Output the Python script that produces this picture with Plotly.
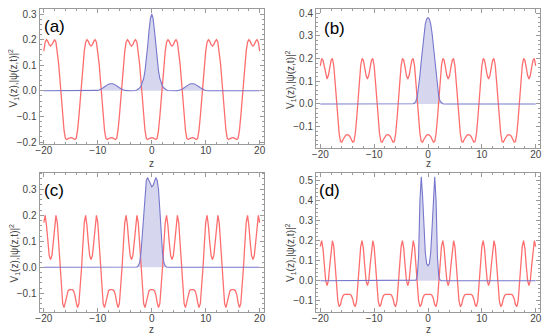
import numpy as np
import plotly.graph_objects as go
from plotly.subplots import make_subplots

# ---------------- data ----------------
z = np.linspace(-20, 20, 161)  # sample positions, step 0.25

V_a = [0.155, 0.190, 0.200, 0.193, 0.180, 0.175,
       0.180, 0.193, 0.200, 0.190, 0.155, 0.105, 0.040, -0.030, -0.100, -0.155, -0.186, -0.190, -0.187, -0.184, -0.183,
       -0.184, -0.187, -0.190, -0.186, -0.155, -0.100, -0.030, 0.040, 0.105, 0.155, 0.190, 0.200, 0.193, 0.180, 0.175,
       0.180, 0.193, 0.200, 0.190, 0.155, 0.105, 0.040, -0.030, -0.100, -0.155, -0.186, -0.190, -0.187, -0.184, -0.183,
       -0.184, -0.187, -0.190, -0.186, -0.155, -0.100, -0.030, 0.040, 0.105, 0.155, 0.190, 0.200, 0.193, 0.180, 0.175,
       0.180, 0.193, 0.200, 0.190, 0.155, 0.105, 0.040, -0.030, -0.100, -0.155, -0.186, -0.190, -0.187, -0.184, -0.183,
       -0.184, -0.187, -0.190, -0.186, -0.155, -0.100, -0.030, 0.040, 0.105, 0.155, 0.190, 0.200, 0.193, 0.180, 0.175,
       0.180, 0.193, 0.200, 0.190, 0.155, 0.105, 0.040, -0.030, -0.100, -0.155, -0.186, -0.190, -0.187, -0.184, -0.183,
       -0.184, -0.187, -0.190, -0.186, -0.155, -0.100, -0.030, 0.040, 0.105, 0.155, 0.190, 0.200, 0.193, 0.180, 0.175,
       0.180, 0.193, 0.200, 0.190, 0.155, 0.105, 0.040, -0.030, -0.100, -0.155, -0.186, -0.190, -0.187, -0.184, -0.183,
       -0.184, -0.187, -0.190, -0.186, -0.155, -0.100, -0.030, 0.040, 0.105, 0.155, 0.190, 0.200, 0.193, 0.180, 0.175,
       0.180, 0.193, 0.200, 0.190, 0.155]

V_b = [0.168, 0.200, 0.192, 0.160, 0.125, 0.110,
       0.125, 0.160, 0.192, 0.200, 0.168, 0.095, 0.015, -0.065, -0.130, -0.165, -0.168, -0.155, -0.143, -0.137, -0.135,
       -0.137, -0.143, -0.155, -0.168, -0.165, -0.130, -0.065, 0.015, 0.095, 0.168, 0.200, 0.192, 0.160, 0.125, 0.110,
       0.125, 0.160, 0.192, 0.200, 0.168, 0.095, 0.015, -0.065, -0.130, -0.165, -0.168, -0.155, -0.143, -0.137, -0.135,
       -0.137, -0.143, -0.155, -0.168, -0.165, -0.130, -0.065, 0.015, 0.095, 0.168, 0.200, 0.192, 0.160, 0.125, 0.110,
       0.125, 0.160, 0.192, 0.200, 0.168, 0.095, 0.015, -0.065, -0.130, -0.165, -0.168, -0.155, -0.143, -0.137, -0.135,
       -0.137, -0.143, -0.155, -0.168, -0.165, -0.130, -0.065, 0.015, 0.095, 0.168, 0.200, 0.192, 0.160, 0.125, 0.110,
       0.125, 0.160, 0.192, 0.200, 0.168, 0.095, 0.015, -0.065, -0.130, -0.165, -0.168, -0.155, -0.143, -0.137, -0.135,
       -0.137, -0.143, -0.155, -0.168, -0.165, -0.130, -0.065, 0.015, 0.095, 0.168, 0.200, 0.192, 0.160, 0.125, 0.110,
       0.125, 0.160, 0.192, 0.200, 0.168, 0.095, 0.015, -0.065, -0.130, -0.165, -0.168, -0.155, -0.143, -0.137, -0.135,
       -0.137, -0.143, -0.155, -0.168, -0.165, -0.130, -0.065, 0.015, 0.095, 0.168, 0.200, 0.192, 0.160, 0.125, 0.110,
       0.125, 0.160, 0.192, 0.200, 0.168]

V_c = [0.172, 0.200, 0.160, 0.095, 0.045, 0.030,
       0.045, 0.095, 0.160, 0.200, 0.172, 0.090, 0.000, -0.085, -0.140, -0.155, -0.135, -0.105, -0.090, -0.086, -0.085,
       -0.086, -0.090, -0.105, -0.135, -0.155, -0.140, -0.085, 0.000, 0.090, 0.172, 0.200, 0.160, 0.095, 0.045, 0.030,
       0.045, 0.095, 0.160, 0.200, 0.172, 0.090, 0.000, -0.085, -0.140, -0.155, -0.135, -0.105, -0.090, -0.086, -0.085,
       -0.086, -0.090, -0.105, -0.135, -0.155, -0.140, -0.085, 0.000, 0.090, 0.172, 0.200, 0.160, 0.095, 0.045, 0.030,
       0.045, 0.095, 0.160, 0.200, 0.172, 0.090, 0.000, -0.085, -0.140, -0.155, -0.135, -0.105, -0.090, -0.086, -0.085,
       -0.086, -0.090, -0.105, -0.135, -0.155, -0.140, -0.085, 0.000, 0.090, 0.172, 0.200, 0.160, 0.095, 0.045, 0.030,
       0.045, 0.095, 0.160, 0.200, 0.172, 0.090, 0.000, -0.085, -0.140, -0.155, -0.135, -0.105, -0.090, -0.086, -0.085,
       -0.086, -0.090, -0.105, -0.135, -0.155, -0.140, -0.085, 0.000, 0.090, 0.172, 0.200, 0.160, 0.095, 0.045, 0.030,
       0.045, 0.095, 0.160, 0.200, 0.172, 0.090, 0.000, -0.085, -0.140, -0.155, -0.135, -0.105, -0.090, -0.086, -0.085,
       -0.086, -0.090, -0.105, -0.135, -0.155, -0.140, -0.085, 0.000, 0.090, 0.172, 0.200, 0.160, 0.095, 0.045, 0.030,
       0.045, 0.095, 0.160, 0.200, 0.172]

V_d = [0.170, 0.200, 0.160, 0.075, 0.000, -0.025,
       0.000, 0.075, 0.160, 0.200, 0.170, 0.085, -0.010, -0.100, -0.130, -0.120, -0.090, -0.074, -0.068, -0.068, -0.069,
       -0.068, -0.068, -0.074, -0.090, -0.120, -0.130, -0.100, -0.010, 0.085, 0.170, 0.200, 0.160, 0.075, 0.000, -0.025,
       0.000, 0.075, 0.160, 0.200, 0.170, 0.085, -0.010, -0.100, -0.130, -0.120, -0.090, -0.074, -0.068, -0.068, -0.069,
       -0.068, -0.068, -0.074, -0.090, -0.120, -0.130, -0.100, -0.010, 0.085, 0.170, 0.200, 0.160, 0.075, 0.000, -0.025,
       0.000, 0.075, 0.160, 0.200, 0.170, 0.085, -0.010, -0.100, -0.130, -0.120, -0.090, -0.074, -0.068, -0.068, -0.069,
       -0.068, -0.068, -0.074, -0.090, -0.120, -0.130, -0.100, -0.010, 0.085, 0.170, 0.200, 0.160, 0.075, 0.000, -0.025,
       0.000, 0.075, 0.160, 0.200, 0.170, 0.085, -0.010, -0.100, -0.130, -0.120, -0.090, -0.074, -0.068, -0.068, -0.069,
       -0.068, -0.068, -0.074, -0.090, -0.120, -0.130, -0.100, -0.010, 0.085, 0.170, 0.200, 0.160, 0.075, 0.000, -0.025,
       0.000, 0.075, 0.160, 0.200, 0.170, 0.085, -0.010, -0.100, -0.130, -0.120, -0.090, -0.074, -0.068, -0.068, -0.069,
       -0.068, -0.068, -0.074, -0.090, -0.120, -0.130, -0.100, -0.010, 0.085, 0.170, 0.200, 0.160, 0.075, 0.000, -0.025,
       0.000, 0.075, 0.160, 0.200, 0.170]

# |psi|^2 : panel (a) on z = -10.5 ... 10.5 (step 0.25) plus the end points
z_psi_a = np.concatenate([[-20], np.linspace(-10.5, 10.5, 85), [20]])
P_a = [0,
       0, 0.0005, 0.0015, 0.003, 0.005, 0.008, 0.012, 0.016, 0.020, 0.0235, 0.026, 0.0275, 0.028,
       0.0275, 0.026, 0.0235, 0.020, 0.016, 0.012, 0.008, 0.005, 0.003, 0.0015, 0.0005, 0,
       0, 0, 0, 0, 0.0005, 0.001, 0.003, 0.006, 0.011, 0.018, 0.030, 0.048, 0.078, 0.120, 0.176, 0.236, 0.282,
       0.300,
       0.282, 0.236, 0.176, 0.120, 0.078, 0.048, 0.030, 0.018, 0.011, 0.006, 0.003, 0.001, 0.0005, 0, 0, 0, 0,
       0, 0.0005, 0.0015, 0.003, 0.005, 0.008, 0.012, 0.016, 0.020, 0.0235, 0.026, 0.0275,
       0.028, 0.0275, 0.026, 0.0235, 0.020, 0.016, 0.012, 0.008, 0.005, 0.003, 0.0015, 0.0005, 0,
       0]

# panels (b)-(d) on z = -3 ... 3 (step 0.25) plus the end points
z_psi = np.concatenate([[-20], np.linspace(-3, 3, 25), [20]])
P_b = [0, 0, 0.001, 0.004, 0.012, 0.032, 0.070, 0.125, 0.190, 0.255, 0.312, 0.352, 0.374,
       0.380, 0.374, 0.352, 0.312, 0.255, 0.190, 0.125, 0.070, 0.032, 0.012, 0.004, 0.001, 0, 0]
P_c = [0, 0, 0.001, 0.005, 0.018, 0.055, 0.130, 0.220, 0.300, 0.335, 0.345, 0.333, 0.315,
       0.310, 0.315, 0.333, 0.345, 0.335, 0.300, 0.220, 0.130, 0.055, 0.018, 0.005, 0.001, 0, 0]
P_d = [0, 0, 0, 0, 0.003, 0.020, 0.120, 0.400, 0.520, 0.420, 0.260, 0.140, 0.085,
       0.075, 0.085, 0.140, 0.260, 0.420, 0.520, 0.400, 0.120, 0.020, 0.003, 0, 0, 0, 0]

labels = ["(a)", "(b)", "(c)", "(d)"]
x_ticks = [-20, -10, 0, 10, 20]
x_tick_text = ["\u221220", "\u221210", "0", "10", "20"]

# ---------------- figure ----------------
# the page body has an 8px margin, so the figure is drawn 8px in from the window edge
OFF = 8
W, H = 542, 327
def px(x):
    return (x - OFF) / W
def py(y):
    return 1 - (y - OFF) / H

RED = "rgb(255,110,110)"
BLUE = "rgb(118,118,205)"
FILL = "rgba(210,210,236,0.9)"

# frames given in window pixels: (left, right, top, bottom); ytc = centre of y title
panels = [
    dict(V=V_a, zp=z_psi_a, P=P_a, yr=[-0.209, 0.3215], frame=(39.5, 264, 8.5, 144.3), lab=(54, 26), ytc=78, zt=163),
    dict(V=V_b, zp=z_psi, P=P_b, yr=[-0.1914, 0.4177], frame=(316, 540, 9, 147.5), lab=(334, 28), ytc=79, zt=163),
    dict(V=V_c, zp=z_psi, P=P_c, yr=[-0.170, 0.3646], frame=(39.5, 264, 172.5, 311.5), lab=(54, 190), ytc=253, zt=329),
    dict(V=V_d, zp=z_psi, P=P_d, yr=[-0.154, 0.541], frame=(316, 540, 172.5, 311.5), lab=(330, 190), ytc=252, zt=329),
]

fig = make_subplots(rows=2, cols=2)
ann = []
for k, p in enumerate(panels):
    r, c = k // 2 + 1, k % 2 + 1
    fig.add_trace(go.Scatter(x=p["zp"], y=p["P"], mode="lines", fill="tozeroy",
                             fillcolor=FILL, line=dict(width=0, color=FILL),
                             hoverinfo="skip", showlegend=False), row=r, col=c)
    fig.add_trace(go.Scatter(x=z, y=p["V"], mode="lines",
                             line=dict(color=RED, width=1.3),
                             showlegend=False), row=r, col=c)
    fig.add_trace(go.Scatter(x=p["zp"], y=p["P"], mode="lines",
                             line=dict(color=BLUE, width=1.1),
                             showlegend=False), row=r, col=c)
    x0, x1, y0, y1 = p["frame"]
    xa = "xaxis" if k == 0 else f"xaxis{k+1}"
    ya = "yaxis" if k == 0 else f"yaxis{k+1}"
    fig.layout[xa].update(domain=[px(x0), px(x1)], range=[-20.8, 20.8],
                          tickvals=x_ticks, ticktext=x_tick_text)
    fig.layout[ya].update(domain=[py(y1), py(y0)], range=p["yr"], dtick=0.1,
                          tickformat=".1f")
    lx, ly = p["lab"]
    ann.append(dict(x=px(lx), y=py(ly), xref="paper", yref="paper", text=labels[k],
                    showarrow=False, xanchor="center", yanchor="middle",
                    font=dict(size=17, color="black", family="Liberation Sans")))
    ann.append(dict(x=px((x0 + x1) / 2), y=py(p["zt"]), xref="paper", yref="paper",
                    text="z", showarrow=False, yanchor="middle", xanchor="center",
                    font=dict(size=10, color="#444", family="Liberation Sans")))
    ann.append(dict(x=px(x0 - 26), y=py(p["ytc"]), xref="paper", yref="paper",
                    text="V<sub>1</sub>(z),|\u03c8(z,t)|<sup>2</sup>", textangle=-90,
                    showarrow=False, xanchor="center", yanchor="middle",
                    font=dict(size=10, color="#444", family="Liberation Sans")))

axis_style = dict(showline=True, linecolor="#9a9a9a", linewidth=1, mirror="ticks",
                  ticks="inside", ticklen=4, tickcolor="#9a9a9a", showgrid=False,
                  zeroline=False, automargin=False, ticklabeloverflow="allow",
                  tickfont=dict(size=10, color="#444", family="Liberation Sans"),
                  fixedrange=True)
fig.update_xaxes(**axis_style, ticklabelstandoff=-3,
                 minor=dict(ticks="inside", ticklen=2, dtick=2, tickcolor="#9a9a9a"))
fig.update_yaxes(**axis_style,
                 minor=dict(ticks="inside", ticklen=2, dtick=0.02, tickcolor="#9a9a9a"))

fig.update_layout(width=W, height=H, margin=dict(l=0, r=0, t=0, b=0, autoexpand=False),
                  paper_bgcolor="white", plot_bgcolor="white", annotations=ann,
                  font=dict(family="Liberation Sans"))

fig.write_html("out.html")
